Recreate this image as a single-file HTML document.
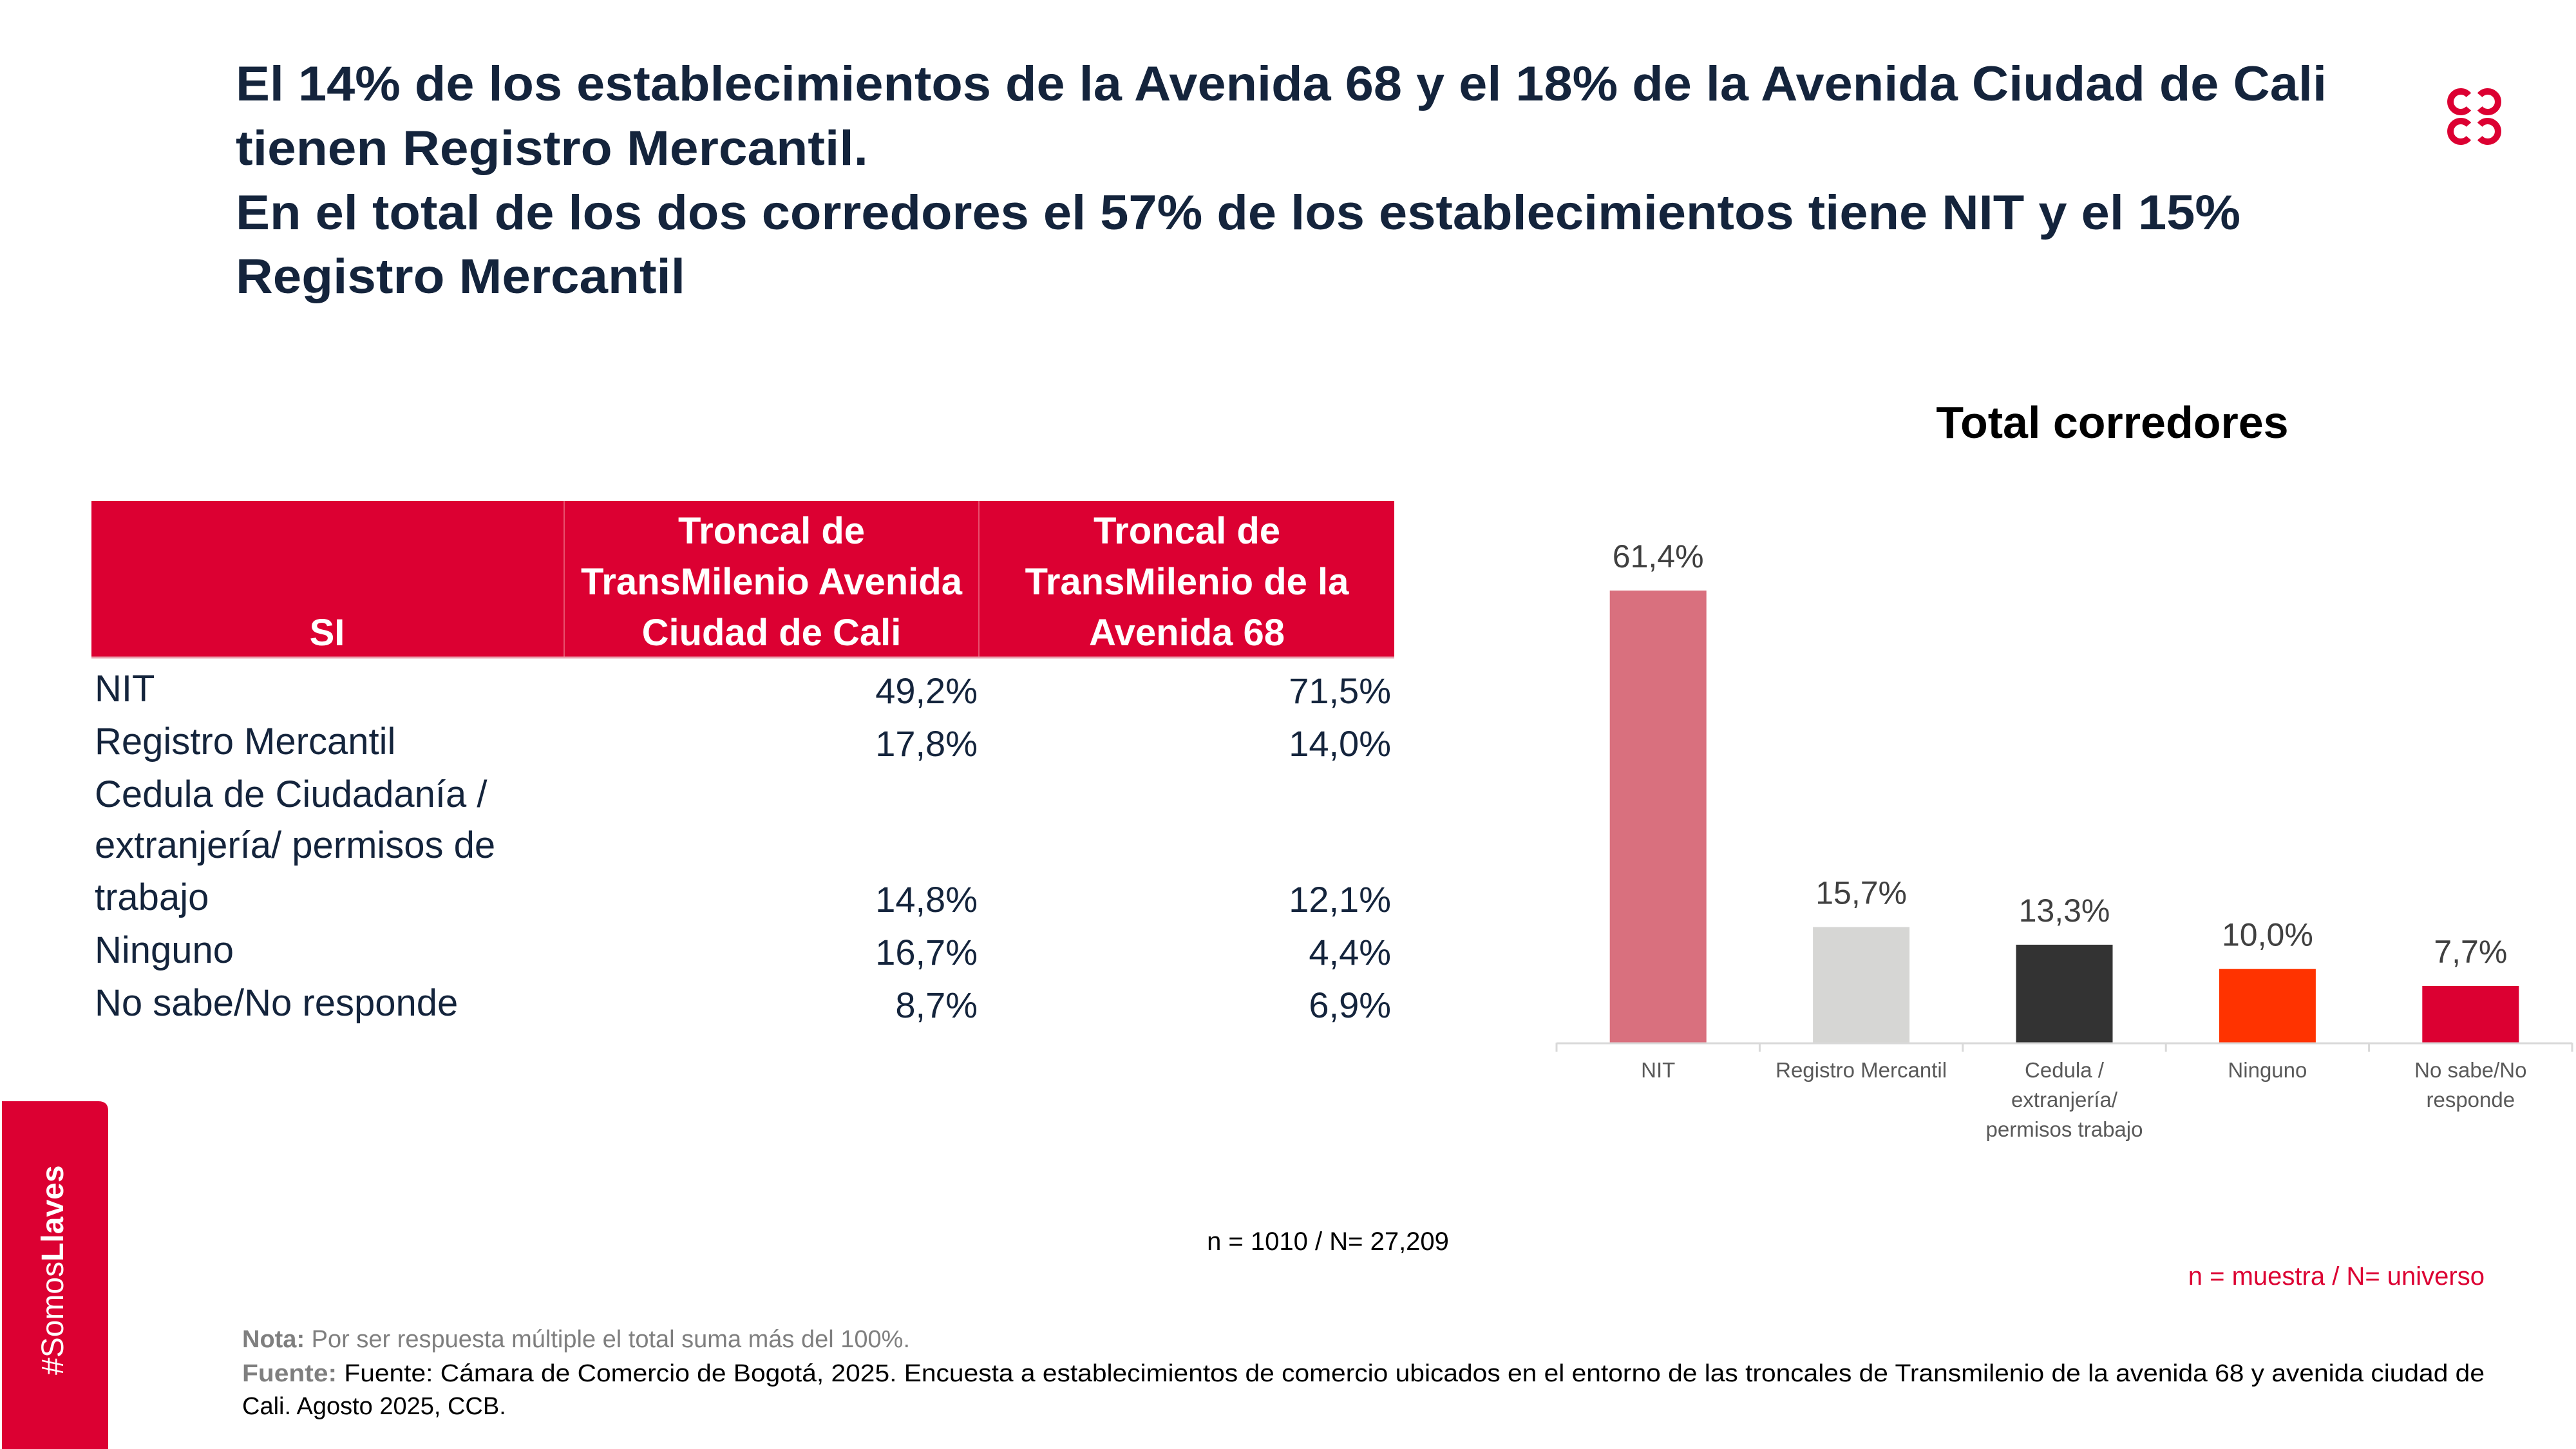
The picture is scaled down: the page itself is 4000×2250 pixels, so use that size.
<!DOCTYPE html>
<html><head><meta charset="utf-8"><style>
html,body{margin:0;padding:0;background:#fff}
svg{display:block;font-family:"Liberation Sans",sans-serif}
</style></head><body>
<svg id="page" width="4000" height="2250" viewBox="0 0 4000 2250" xmlns="http://www.w3.org/2000/svg">
<rect width="4000" height="2250" fill="#fff"/>
<g fill="#14243c" font-weight="bold" font-size="76">
<text x="366" y="156" textLength="3247" lengthAdjust="spacingAndGlyphs">El 14% de los establecimientos de la Avenida 68 y el 18% de la Avenida Ciudad de Cali</text>
<text x="366" y="256" textLength="982" lengthAdjust="spacingAndGlyphs">tienen Registro Mercantil.</text>
<text x="366" y="356" textLength="3113" lengthAdjust="spacingAndGlyphs">En el total de los dos corredores el 57% de los establecimientos tiene NIT y el 15%</text>
<text x="366" y="455" textLength="698" lengthAdjust="spacingAndGlyphs">Registro Mercantil</text>
</g>
<g fill="none" stroke="#dc0032" stroke-width="10">
<path d="M3833.3 147.7 A16 16 0 1 0 3833.3 168.3"/>
<path d="M3850.7 147.7 A16 16 0 1 1 3850.7 168.3"/>
<path d="M3833.3 193.7 A16 16 0 1 0 3833.3 214.3"/>
<path d="M3850.7 193.7 A16 16 0 1 1 3850.7 214.3"/>
</g>
<g>
<path d="M3 1710 H153 Q168 1710 168 1725 V2250 H3 Z" fill="#dc0032"/>
<text transform="translate(98,2135) rotate(-90)" fill="#fff" font-size="48">#Somos<tspan font-weight="bold">Llaves</tspan></text>
</g>
<g>
<rect x="142" y="778" width="2023" height="242" fill="#dc0032"/>
<line x1="876" y1="778" x2="876" y2="1020" stroke="#e8506e" stroke-width="2"/>
<line x1="1520" y1="778" x2="1520" y2="1020" stroke="#e8506e" stroke-width="2"/>
<line x1="142" y1="1021" x2="2165" y2="1021" stroke="#e9a0ae" stroke-width="3"/>
<g fill="#fff" font-weight="bold" font-size="58" text-anchor="middle">
<text x="508" y="1002">SI</text>
<text x="1198" y="844">Troncal de</text>
<text x="1198" y="923">TransMilenio Avenida</text>
<text x="1198" y="1002">Ciudad de Cali</text>
<text x="1843" y="844">Troncal de</text>
<text x="1843" y="923">TransMilenio de la</text>
<text x="1843" y="1002">Avenida 68</text>
</g>
<g fill="#14243c" font-size="58">
<text x="147" y="1089">NIT</text>
<text x="147" y="1171">Registro Mercantil</text>
<text x="147" y="1253">Cedula de Ciudadanía /</text>
<text x="147" y="1332">extranjería/ permisos de</text>
<text x="147" y="1413">trabajo</text>
<text x="147" y="1495">Ninguno</text>
<text x="147" y="1577">No sabe/No responde</text>
</g>
<g fill="#14243c" font-size="56" text-anchor="end">
<text x="1518" y="1092">49,2%</text><text x="2160" y="1092">71,5%</text>
<text x="1518" y="1174">17,8%</text><text x="2160" y="1174">14,0%</text>
<text x="1518" y="1416">14,8%</text><text x="2160" y="1416">12,1%</text>
<text x="1518" y="1498">16,7%</text><text x="2160" y="1498">4,4%</text>
<text x="1518" y="1580">8,7%</text><text x="2160" y="1580">6,9%</text>
</g>
</g>
<text x="3280" y="680" text-anchor="middle" font-size="70" font-weight="bold" fill="#000">Total corredores</text>
<g id="chart"></g>
<text x="2062" y="1941" text-anchor="middle" font-size="40" fill="#000">n = 1010 / N= 27,209</text>
<text x="3858" y="1995" text-anchor="end" font-size="40" fill="#dc0032">n = muestra / N= universo</text>
<text x="376" y="2092" font-size="38" fill="#7f7f7f"><tspan font-weight="bold">Nota:</tspan> Por ser respuesta múltiple el total suma  más del 100%.</text>
<text x="376" y="2145" font-size="38" fill="#000" textLength="3482" lengthAdjust="spacingAndGlyphs"><tspan font-weight="bold" fill="#7f7f7f">Fuente:</tspan> Fuente:  Cámara de Comercio de Bogotá, 2025. Encuesta a establecimientos de comercio ubicados en el entorno de las troncales de Transmilenio de la avenida 68 y avenida ciudad de</text>
<text x="376" y="2196" font-size="38" fill="#000">Cali. Agosto 2025, CCB.</text>
</svg>
<script>
const categories = [["NIT"], ["Registro Mercantil"], ["Cedula /", "extranjería/", "permisos trabajo"], ["Ninguno"], ["No sabe/No", "responde"]];
const values = [61.4, 15.7, 13.3, 10.0, 7.7];
const valueLabels = ["61,4%", "15,7%", "13,3%", "10,0%", "7,7%"];
const barColors = ["#d9707e", "#d6d6d4", "#333333", "#ff3300", "#dc0032"];

const NS = "http://www.w3.org/2000/svg";
const g = document.getElementById("chart");
const x0 = 2417, x1 = 3994, baseY = 1619, pxPerUnit = 702 / 61.4, barW = 150;
const slot = (x1 - x0) / categories.length;
const xCenter = i => x0 + slot * (i + 0.5);
const yScale = v => baseY - v * pxPerUnit;
function mk(tag, attrs) { const e = document.createElementNS(NS, tag); for (const k in attrs) e.setAttribute(k, attrs[k]); g.appendChild(e); return e; }
values.forEach((v, i) => {
  const r = mk("rect", {x: xCenter(i) - barW / 2, y: yScale(v), width: barW, height: baseY - yScale(v), fill: barColors[i]});
  
  
  const t = mk("text", {x: xCenter(i), y: yScale(v) - 36, "text-anchor": "middle", "font-size": 50, fill: "#404040"});
  t.textContent = valueLabels[i];
  
  
  categories[i].forEach((line, j) => {
    const c = mk("text", {x: xCenter(i), y: 1673 + j * 46, "text-anchor": "middle", "font-size": 33, fill: "#595959"});
    c.textContent = line;
    
    
  });
});
const ax = mk("line", {x1: x0, y1: baseY + 1, x2: x1, y2: baseY + 1, stroke: "#d9d9d9", "stroke-width": 3});


for (let i = 0; i <= categories.length; i++) {
  const tk = mk("line", {x1: x0 + slot * i, y1: baseY, x2: x0 + slot * i, y2: baseY + 14, stroke: "#d9d9d9", "stroke-width": 3});
  
  
}
</script>
</body></html>
